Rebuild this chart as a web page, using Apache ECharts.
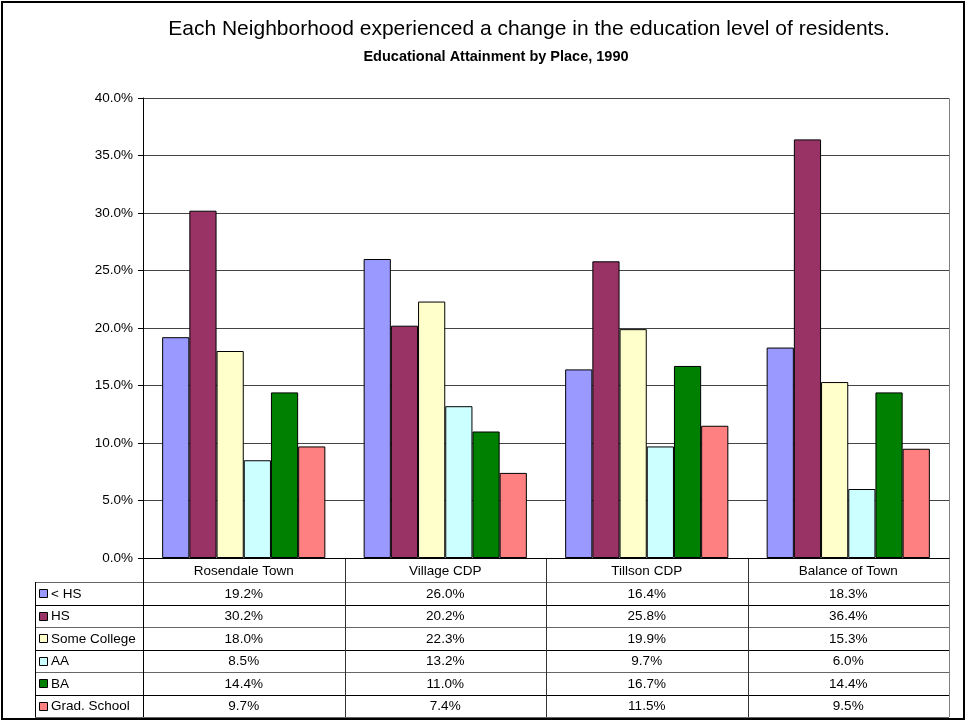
<!DOCTYPE html>
<html lang="en">
<head>
    <meta charset="utf-8">
    <title>Educational Attainment by Place, 1990</title>
    <script src="https://cdn.jsdelivr.net/npm/echarts@6/dist/echarts.min.js"></script>
    <style>
        html, body { margin: 0; padding: 0; background: #fff; }
        #main { width: 969px; height: 721px; }
    </style>
</head>
<body>
<div id="main"></div>

<script type="text/javascript">
    // data
    var places = ['Rosendale Town', 'Village CDP', 'Tillson CDP', 'Balance of Town'];
    var levels = ['< HS', 'HS', 'Some College', 'AA', 'BA', 'Grad. School'];
    var lessHS = [19.2, 26.0, 16.4, 18.3];
    var hs = [30.2, 20.2, 25.8, 36.4];
    var someCollege = [18.0, 22.3, 19.9, 15.3];
    var aa = [8.5, 13.2, 9.7, 6.0];
    var ba = [14.4, 11.0, 16.7, 14.4];
    var gradSchool = [9.7, 7.4, 11.5, 9.5];
    var colors = ['#9999FF', '#993366', '#FFFFCC', '#CCFFFF', '#008000', '#FF8080'];

    var values = [lessHS, hs, someCollege, aa, ba, gradSchool];

    // layout
    var plotL = 143, plotR = 949, plotT = 98, plotB = 558;
    var tableL = 35, headerB = 582, rowH = 22.5;
    var colW = (plotR - plotL) / places.length;
    var font = 'Arial, "Liberation Sans", sans-serif';
    var fs = 13.5;

    var myChart = echarts.init(document.getElementById('main'));

    var series = levels.map(function (name, i) {
        return {
            name: name,
            type: 'bar',
            data: values[i],
            barGap: '0%',
            barCategoryGap: '19%',
            itemStyle: { color: colors[i], borderColor: '#000', borderWidth: 1 },
            animation: false
        };
    });

    // data table under the plot, built from the same arrays
    var graphics = [];
    var tableB = headerB + rowH * levels.length;
    function line(x1, y1, x2, y2, c) {
        graphics.push({
            type: 'line', silent: true,
            shape: { x1: x1, y1: y1, x2: x2, y2: y2 },
            style: { stroke: c || '#000', lineWidth: 1 }
        });
    }
    for (var r = 0; r <= levels.length; r++) {
        var y = Math.round(headerB + r * rowH) + 0.5;
        line(tableL, y, plotR, y, r % 2 ? '#000' : '#666');
    }
    line(tableL + 0.5, headerB, tableL + 0.5, tableB);
    for (var c = 1; c <= places.length; c++) {
        var x = Math.round(plotL + c * colW) + 0.5;
        line(x, plotB, x, tableB, c === places.length ? '#808080' : '#333');
    }
    line(plotL + 0.5, plotB, plotL + 0.5, tableB);
    places.forEach(function (p, j) {
        graphics.push({
            type: 'text', silent: true,
            x: plotL + (j + 0.5) * colW, y: (plotB + headerB) / 2 + 1,
            style: { text: p, font: fs + 'px ' + font, fill: '#000', align: 'center', verticalAlign: 'middle' }
        });
    });
    levels.forEach(function (name, i) {
        var cy = headerB + (i + 0.5) * rowH + 1;
        graphics.push({
            type: 'rect', silent: true,
            shape: { x: 39.5, y: Math.round(cy) - 4.5, width: 8, height: 8 },
            style: { fill: colors[i], stroke: '#000', lineWidth: 1 }
        });
        graphics.push({
            type: 'text', silent: true,
            x: 51, y: cy,
            style: { text: name, font: fs + 'px ' + font, fill: '#000', align: 'left', verticalAlign: 'middle' }
        });
        values[i].forEach(function (v, j) {
            graphics.push({
                type: 'text', silent: true,
                x: plotL + (j + 0.5) * colW, y: cy,
                style: { text: v.toFixed(1) + '%', font: fs + 'px ' + font, fill: '#000', align: 'center', verticalAlign: 'middle' }
            });
        });
    });
    // plot area border (right / top) and outer frame
    graphics.push({
        type: 'rect', silent: true,
        shape: { x: plotL + 0.5, y: plotT + 0.5, width: plotR - plotL, height: plotB - plotT },
        style: { fill: 'none', stroke: '#808080', lineWidth: 1 }
    });
    graphics.push({
        type: 'rect', silent: true,
        shape: { x: 2, y: 2, width: 962, height: 717 },
        style: { fill: 'none', stroke: '#000', lineWidth: 2 }
    });

    myChart.setOption({
        animation: false,
        backgroundColor: '#fff',
        title: [{
            text: 'Each Neighborhood experienced a change in the education level of residents.',
            left: 524, top: 14, textAlign: 'center',
            textStyle: { fontFamily: font, fontSize: 21, fontWeight: 'normal', color: '#000' }
        }, {
            text: 'Educational Attainment by Place, 1990',
            left: 491, top: 44, textAlign: 'center',
            textStyle: { fontFamily: font, fontSize: 14.5, fontWeight: 'bold', color: '#000' }
        }],
        grid: { left: plotL, right: 969 - plotR, top: plotT, bottom: 721 - plotB },
        xAxis: {
            type: 'category',
            data: places,
            axisLine: { lineStyle: { color: '#000' } },
            axisTick: { show: false },
            axisLabel: { show: false },
            z: 5
        },
        yAxis: {
            type: 'value',
            min: 0, max: 40, interval: 5,
            axisLine: { show: true, lineStyle: { color: '#000' } },
            axisTick: { show: true, length: 5, lineStyle: { color: '#000' } },
            axisLabel: {
                fontFamily: font, fontSize: fs, color: '#000', margin: 10,
                formatter: function (v) { return v.toFixed(1) + '%'; }
            },
            splitLine: { lineStyle: { color: '#444' } }
        },
        series: series,
        graphic: graphics
    });
</script>
</body>
</html>
